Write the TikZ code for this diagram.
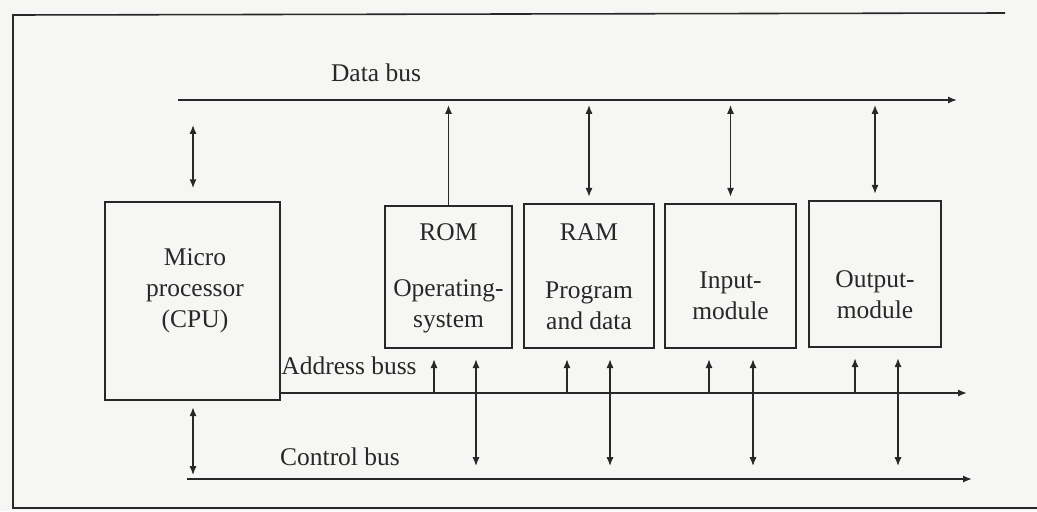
\documentclass[tikz,border=0pt]{standalone}
\usepackage{fontspec}
\setmainfont{Liberation Serif}
\usepackage{tikz}
\usetikzlibrary{arrows.meta, positioning}

\definecolor{paper}{RGB}{246,246,244}
\definecolor{ink}{RGB}{40,40,40}

\begin{document}
\begin{tikzpicture}[
            x=0.02cm, y=-0.02cm,
            >={Latex[length=5pt, width=4pt]},
            font=\fontsize{14.5}{17.6}\selectfont,
            every node/.style={text=ink},
            block/.style={draw=ink, line width=0.8pt, inner sep=0pt},
            bus/.style={draw=ink, line width=1.1pt},
            link/.style={draw=ink, line width=0.75pt},
            frame/.style={draw=ink, line width=0.9pt}
        ]

        % Sfondo e cornice
        \fill[paper] (0,0) rectangle (1037,511);
        \useasboundingbox (0,0) rectangle (1037,511);
        \draw[frame] (1037,508) -- (13,508) -- (13,15) -- (1005,13);

        % Blocchi
        \node[block, minimum width=3.5cm, minimum height=3.96cm] (cpu) at (192.5,301) {};
        \node[block, minimum width=2.54cm, minimum height=2.84cm] (rom) at (448.5,277) {};
        \node[block, minimum width=2.6cm, minimum height=2.88cm] (ram) at (589,276) {};
        \node[block, minimum width=2.62cm, minimum height=2.88cm] (inp) at (730.5,276) {};
        \node[block, minimum width=2.64cm, minimum height=2.92cm] (out) at (875,274) {};

        % Testi dei blocchi
        \node[align=center] (cputext) at (195,291) {Micro\\processor\\(CPU)};
        \node (romtitle) at (448.5,232) {ROM};
        \node[align=center] (romtext) at (448.5,306) {Operating-\\system};
        \node (ramtitle) at (589,232) {RAM};
        \node[align=center] (ramtext) at (589,306) {Program\\and data};
        \node[align=center] (inptext) at (730.5,296) {Input-\\module};
        \node[align=center] (outtext) at (875,295) {Output-\\module};

        % Bus
        \coordinate (db0) at (178,100);
        \coordinate (db1) at (957,100);
        \coordinate (ab1) at (967,393);
        \coordinate (cb0) at (187,479);
        \coordinate (cb1) at (972,479);
        \draw[bus, ->] (db0) -- (db1);
        \draw[bus, ->] (cpu.south east |- ab1) -- (ab1);
        \draw[bus, ->] (cb0) -- (cb1);

        % Etichette dei bus
        \node (dblabel) at (376,73) {Data bus};
        \node[anchor=east, inner sep=0pt] (ablabel) at (417,366) {Address buss};
        \node (cblabel) at (340,457) {Control bus};

        % Collegamenti al data bus
        \coordinate (cpuD) at (193,125);
        \draw[link, <->, shorten >=10\pgflinewidth] (cpuD) -- (cpuD |- cpu.north);
        \coordinate (romD) at (448.5,105);
        \draw[link, ->] (rom.north) -- (romD);
        \foreach \m in {ram, inp, out} {
            \coordinate (\m D) at (\m.north |- 0,105);
            \draw[link, <->, shorten >=5\pgflinewidth] (\m D) -- (\m.north);
        }

        % Collegamenti al bus di controllo della CPU
        \coordinate (cpuC) at (193,475);
        \draw[link, <->, shorten >=5\pgflinewidth] (cpuC) -- (cpuC |- cpu.south);

        % Collegamenti ad address bus e control bus
        \foreach \m/\a/\c in {rom/434/476, ram/567/610, inp/709/753, out/855/898} {
            \coordinate (\m A) at (\a,393);
            \coordinate (\m C) at (\c,466);
            \draw[link, ->, shorten >=8\pgflinewidth] (\m A) -- (\m A |- \m.south);
            \draw[link, <->, shorten >=8\pgflinewidth] (\m C) -- (\m C |- \m.south);
        }

        \end{tikzpicture}
\end{document}
